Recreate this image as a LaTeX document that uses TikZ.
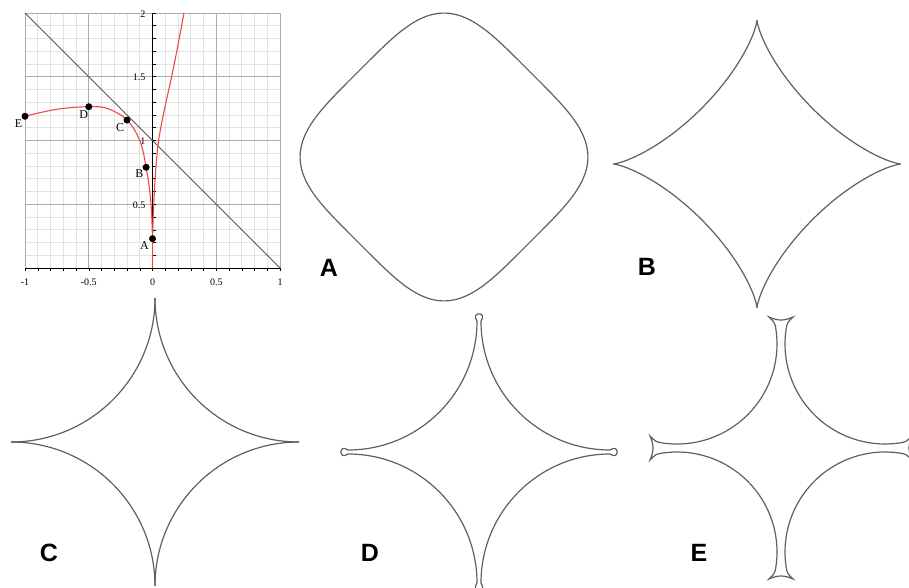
\documentclass[tikz,border=0pt]{standalone}
\usepackage{fontspec}
\setmainfont{Liberation Serif}
\setsansfont{Liberation Sans}
\usetikzlibrary{positioning}
\definecolor{plotred}{RGB}{240,70,70}
\definecolor{minorgray}{RGB}{226,226,226}
\definecolor{majorgray}{RGB}{172,172,172}
\definecolor{diaggray}{RGB}{85,85,85}
\definecolor{shapegray}{RGB}{95,95,95}
\tikzset{
  minor grid/.style={draw=minorgray, line width=0.7pt},
  major grid/.style={draw=majorgray, line width=0.9pt},
  axis line/.style={draw=black, line width=0.8pt},
  tick line/.style={draw=black, line width=0.5pt},
  diag line/.style={draw=diaggray, line width=0.9pt},
  redcurve/.style={draw=plotred, line width=1.1pt},
  dot/.style={circle, fill=black, inner sep=0pt, minimum size=7pt},
  ptlabel/.style={font=\fontsize{12}{12}\selectfont, inner sep=0pt},
  ticklabel/.style={font=\fontsize{10}{10}\selectfont, inner sep=0pt},
  outline/.style={draw=shapegray, line width=1.2pt},
  panel/.style={font=\sffamily\bfseries\fontsize{25}{25}\selectfont, inner sep=0pt}
}
\begin{document}
\begin{tikzpicture}[x=1pt, y=1pt]
\clip (0,0) rectangle (909,587);

% plot
\begin{scope}[shift={(152.5,319)}, x=127.5pt, y=127.5pt]
\foreach \i in {-10,...,10}
  \draw[minor grid] (\i/10,0) -- (\i/10,2);
\foreach \j in {1,...,20}
  \draw[minor grid] (-1,\j/10) -- (1,\j/10);
\foreach \i in {-1,-0.5,0.5,1}
  \draw[major grid] (\i,0) -- (\i,2);
\foreach \j in {0.5,1,1.5,2}
  \draw[major grid] (-1,\j) -- (1,\j);
\draw[axis line] (-1,0) -- (1,0);
\draw[axis line] (0,0) -- (0,2);
\foreach \i in {-10,...,10}
  \draw[tick line] (\i/10,0) -- ++(0,-3pt);
\foreach \j in {1,...,20}
  \draw[tick line] (0,\j/10) -- ++(3pt,0);
\foreach \i in {-1,-0.5,0,0.5,1}
  \node[ticklabel, below=11pt] at (\i,0) {\i};
\foreach \j in {0.5,1,1.5,2}
  \node[ticklabel, anchor=east] at ([xshift=-7pt,yshift=-1pt]0,\j) {\j};
\draw[diag line] (-1,2) -- (1,0);
\draw[redcurve] plot[smooth, tension=0.6] coordinates {(-1,1.19) (-0.75,1.245) (-0.5,1.265) (-0.35,1.25) (-0.2,1.16) (-0.1,1.0) (-0.05,0.79) (-0.014,0.53) (0,0.23) (0,0)};
\draw[redcurve] plot[smooth, tension=0.6] coordinates {(0,0.23) (0.01,0.5) (0.024,0.75) (0.048,1.0) (0.095,1.25) (0.15,1.5) (0.2,1.75) (0.247,2.0)};
\node[dot] (ptE) at (-1,1.19) {};
\node[dot] (ptD) at (-0.5,1.265) {};
\node[dot] (ptC) at (-0.2,1.16) {};
\node[dot] (ptB) at (-0.05,0.79) {};
\node[dot] (ptA) at (0,0.23) {};
\node[ptlabel, below left=1pt and 0pt of ptE] (lblE) {E};
\node[ptlabel, below left=1pt and -2pt of ptD] (lblD) {D};
\node[ptlabel, below left=1pt and 0pt of ptC] (lblC) {C};
\node[ptlabel, below left=0pt and 0pt of ptB] (lblB) {B};
\node[ptlabel, below left=0pt and 1pt of ptA] (lblA) {A};
\end{scope}

% A
\begin{scope}[shift={(444,430)}]
\foreach \r in {45,135,225,315}
  \draw[outline, rotate=\r] plot[domain=0:90, samples=91, variable=\t]
    ({121*sqrt(abs(cos(\t)))}, {121*sqrt(abs(sin(\t)))});
\end{scope}

% B
\begin{scope}[shift={(757,423)}]
\draw[outline] plot[domain=0:360, samples=181, variable=\t]
  ({144*cos(\t)*abs(cos(\t))*sqrt(abs(cos(\t)))*sqrt(sqrt(abs(cos(\t))))},
   {144*sin(\t)*abs(sin(\t))*sqrt(abs(sin(\t)))*sqrt(sqrt(abs(sin(\t))))}) -- cycle;
\end{scope}

% C
\begin{scope}[shift={(155,145)}]
\foreach \r in {0,90,180,270}
  \draw[outline, rotate=\r] (0,144) arc[start angle=180, end angle=270, radius=144];
\end{scope}

% D
\begin{scope}[shift={(479,135)}]
\foreach \r in {0,90,180,270}
  \draw[outline, rotate=\r] (2,131) arc[start angle=180, end angle=270, radius=129]
    .. controls (140.5,9) and (140.5,-9) .. (131,-2);
\end{scope}

% E
\begin{scope}[shift={(781,139)}]
\foreach \r in {0,90,180,270}
  \draw[outline, rotate=\r] (4.97,117.92) arc[start angle=172, end angle=278, radius=100]
    .. controls (125,6) .. (131,12) .. controls (127,3) and (127,-3) .. (131,-12)
    .. controls (125,-6) .. (117.92,-4.97);
\end{scope}

\node[panel] (labA) at (329,319) {A};
\node[panel] (labB) at (647,320) {B};
\node[panel] (labC) at (49,34) {C};
\node[panel] (labD) at (370,34) {D};
\node[panel] (labE) at (699,34) {E};
\end{tikzpicture}
\end{document}
